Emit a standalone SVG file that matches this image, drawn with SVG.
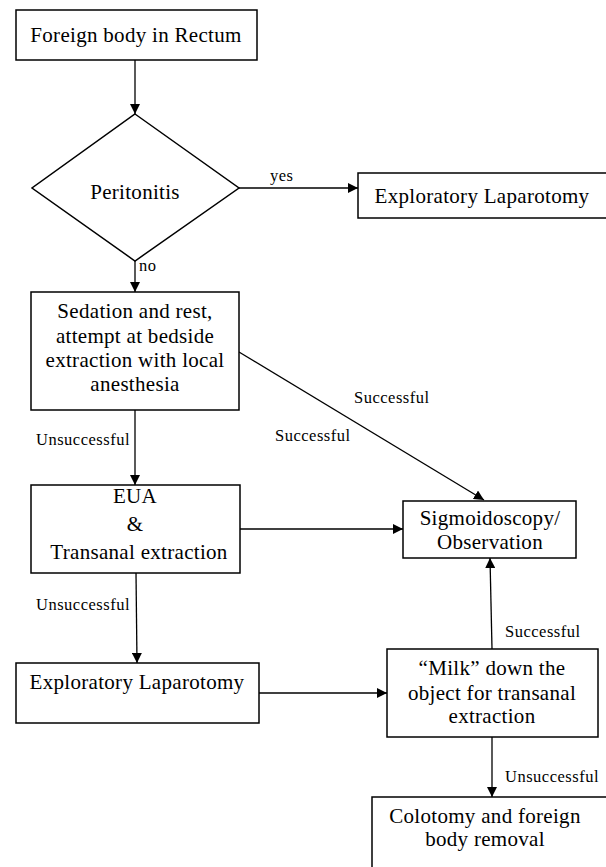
<svg xmlns="http://www.w3.org/2000/svg" width="606" height="867" viewBox="0 0 606 867">
<style>
.box{fill:#fff;stroke:#000;stroke-width:1.5}
.t{font-family:"Liberation Serif","DejaVu Serif",serif;font-size:21px;letter-spacing:0.3px;text-anchor:middle;fill:#000}
.l{font-family:"Liberation Serif","DejaVu Serif",serif;font-size:16.5px;letter-spacing:0.5px;fill:#000}
.c{stroke:#000;stroke-width:1.3;fill:none;marker-end:url(#a)}
</style>
<defs>
<marker id="a" viewBox="0 0 10 10" refX="10" refY="5" markerWidth="10" markerHeight="10" markerUnits="userSpaceOnUse" orient="auto">
<path d="M0,0 L10,5 L0,10 z" fill="#000"/>
</marker>
</defs>
<g id="connectors">
<line class="c" x1="135" y1="60" x2="135" y2="114"/>
<line class="c" x1="239" y1="188" x2="358" y2="188"/>
<line class="c" x1="135" y1="261" x2="135" y2="292"/>
<line class="c" x1="239" y1="352" x2="484" y2="500"/>
<line class="c" x1="135" y1="410" x2="135" y2="485"/>
<line class="c" x1="240" y1="529" x2="403" y2="529"/>
<line class="c" x1="136" y1="573" x2="137" y2="663"/>
<line class="c" x1="259" y1="693" x2="387" y2="693"/>
<line class="c" x1="492" y1="649" x2="490" y2="558"/>
<line class="c" x1="492" y1="737" x2="492" y2="797"/>
<text class="l" x="270" y="181">yes</text>
<text class="l" x="139" y="271">no</text>
<text class="l" x="354" y="403">Successful</text>
<text class="l" x="36" y="445">Unsuccessful</text>
<text class="l" x="275" y="441">Successful</text>
<text class="l" x="36" y="610">Unsuccessful</text>
<text class="l" x="505" y="637">Successful</text>
<text class="l" x="505" y="782">Unsuccessful</text>
</g>
<g id="start">
<rect class="box" x="16" y="10" width="241" height="50"/>
<text class="t" x="136" y="42">Foreign body in Rectum</text>
</g>
<g id="peritonitis">
<polygon class="box" points="135,114 239,188 135,261 32,188"/>
<text class="t" x="135" y="199">Peritonitis</text>
</g>
<g id="laparotomy1">
<rect class="box" x="358" y="173" width="260" height="45"/>
<text class="t" x="482" y="203">Exploratory Laparotomy</text>
</g>
<g id="sedation">
<rect class="box" x="31" y="292" width="208" height="118"/>
<text class="t" x="135" y="318">Sedation and rest,</text>
<text class="t" x="135" y="343">attempt at bedside</text>
<text class="t" x="135" y="367">extraction with local</text>
<text class="t" x="135" y="391">anesthesia</text>
</g>
<g id="eua">
<rect class="box" x="31" y="485" width="209" height="88"/>
<text class="t" x="135" y="503">EUA</text>
<text class="t" x="135" y="531">&amp;</text>
<text class="t" x="139" y="559">Transanal extraction</text>
</g>
<g id="sigmoidoscopy">
<rect class="box" x="403" y="501" width="173" height="57"/>
<text class="t" x="490" y="525">Sigmoidoscopy/</text>
<text class="t" x="490" y="549">Observation</text>
</g>
<g id="laparotomy2">
<rect class="box" x="16" y="663" width="243" height="60"/>
<text class="t" x="137" y="689">Exploratory Laparotomy</text>
</g>
<g id="milk">
<rect class="box" x="387" y="649" width="211" height="88"/>
<text class="t" x="492" y="675">“Milk” down the</text>
<text class="t" x="492" y="700">object for transanal</text>
<text class="t" x="492" y="723">extraction</text>
</g>
<g id="colotomy">
<rect class="box" x="372" y="797" width="260" height="90"/>
<text class="t" x="485" y="823">Colotomy and foreign</text>
<text class="t" x="485" y="846">body removal</text>
</g>
</svg>
